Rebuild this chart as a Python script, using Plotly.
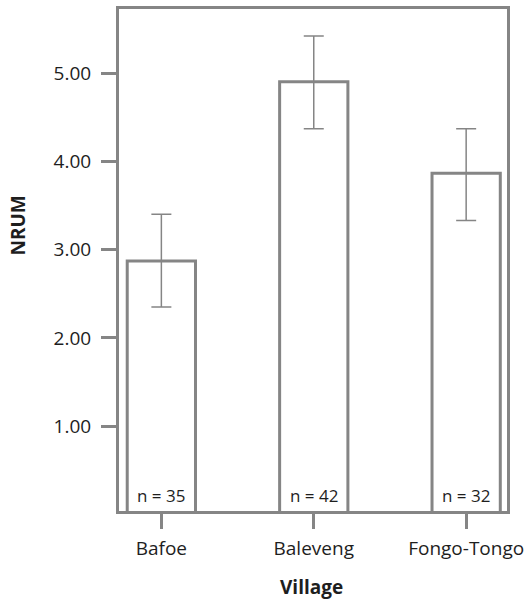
import plotly.graph_objects as go

villages = ["Bafoe", "Baleveng", "Fongo-Tongo"]
means = [2.87, 4.90, 3.865]
ci_upper = [3.40, 5.42, 4.37]
ci_lower = [2.35, 4.37, 3.33]
counts = [35, 42, 32]
y_ticks = [1, 2, 3, 4, 5]

GRAY = "#858585"
TXT = "#1e1e1e"
FONT = "Open Sans"

W, H = 532, 604
ML, MR, MT, MB = 118.5, 24.5, 5.5, 92.5
PW, PH = W - ML - MR, H - MT - MB


def px_to_paper_x(px):
    return (px - ML) / PW


def px_to_paper_y(py):
    return (H - MB - py) / PH


err_plus = [u - m for u, m in zip(ci_upper, means)]
err_minus = [m - l for m, l in zip(means, ci_lower)]

fig = go.Figure()
fig.add_trace(go.Bar(
    x=[0, 1, 2],
    y=means,
    width=0.448,
    marker=dict(color="white", line=dict(color=GRAY, width=3)),
    error_y=dict(type="data", symmetric=False, array=err_plus, arrayminus=err_minus,
                 color=GRAY, thickness=1.5, width=10),
    showlegend=False,
    hoverinfo="skip",
))

for i, n in enumerate(counts):
    fig.add_annotation(x=i, y=0, xref="x", yref="paper", text=f"n = {n}",
                       showarrow=False, yanchor="bottom", yshift=2,
                       font=dict(family=FONT, size=17, color=TXT))

fig.add_annotation(x=px_to_paper_x(311.5), y=px_to_paper_y(588), xref="paper", yref="paper",
                   text="<b>Village</b>", showarrow=False, xanchor="center", yanchor="middle",
                   font=dict(family=FONT, size=19, color=TXT))
fig.add_annotation(x=px_to_paper_x(17), y=px_to_paper_y(224), xref="paper", yref="paper",
                   text="<b>NRUM</b>", showarrow=False, xanchor="center", yanchor="middle",
                   textangle=-90, font=dict(family=FONT, size=19, color=TXT))

fig.update_layout(
    width=W, height=H,
    margin=dict(l=ML, r=MR, t=MT, b=MB),
    paper_bgcolor="white", plot_bgcolor="white",
    font=dict(family=FONT, size=19, color=TXT),
    xaxis=dict(
        range=[-0.278, 2.268],
        tickvals=[0, 1, 2], ticktext=villages,
        ticks="outside", ticklen=15, tickwidth=3, tickcolor=GRAY,
        ticklabelstandoff=3,
        showline=True, linewidth=3, linecolor=GRAY, mirror=True,
        showgrid=False, zeroline=False,
        tickfont=dict(family=FONT, size=19, color=TXT),
    ),
    yaxis=dict(
        range=[0.04, 5.725],
        tickvals=y_ticks, ticktext=[f"{v:.2f}" for v in y_ticks],
        ticks="outside", ticklen=15, tickwidth=3, tickcolor=GRAY,
        ticklabelstandoff=6,
        showline=True, linewidth=3, linecolor=GRAY, mirror=True,
        showgrid=False, zeroline=False,
        tickfont=dict(family=FONT, size=19, color=TXT),
    ),
)

fig.write_html("out.html", config={"displayModeBar": False},
               post_script="document.body.style.margin='0';")
